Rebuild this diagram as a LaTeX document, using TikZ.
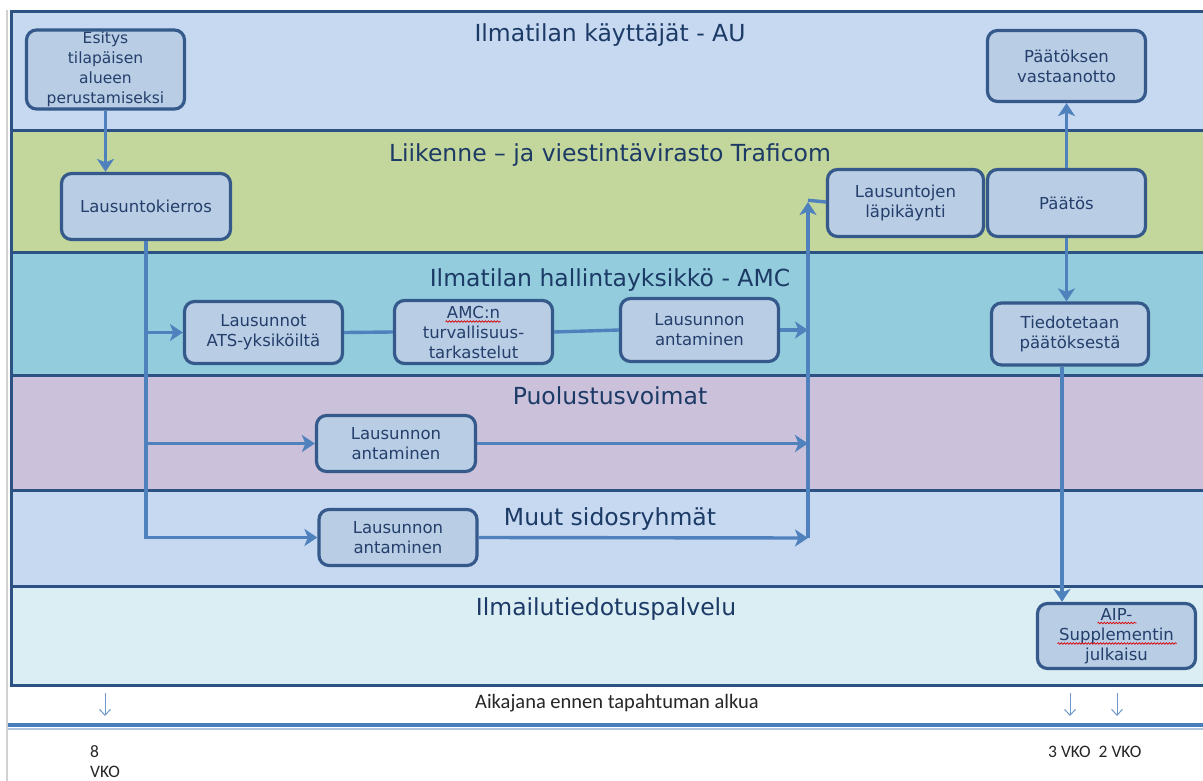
\documentclass[tikz,border=0pt]{standalone}
\usepackage{fontspec}
\setmainfont{DejaVu Sans}
\newfontfamily\calfont{Carlito}
\usetikzlibrary{arrows.meta,decorations.pathmorphing}
\definecolor{laneAU}{HTML}{C6D9F1}
\definecolor{laneTR}{HTML}{C3D69B}
\definecolor{laneAMC}{HTML}{93CDDD}
\definecolor{lanePV}{HTML}{CCC1DA}
\definecolor{laneMU}{HTML}{C6D9F1}
\definecolor{laneIL}{HTML}{DBEEF4}
\definecolor{laneline}{HTML}{2B5282}
\definecolor{boxfill}{HTML}{B9CDE5}
\definecolor{boxline}{HTML}{34598A}
\definecolor{boxtext}{HTML}{243F6B}
\definecolor{titletext}{HTML}{1C3A66}
\definecolor{arrowblue}{HTML}{4F81BD}
\definecolor{thinblue}{HTML}{6F97CC}
\definecolor{tlblue}{HTML}{4A7EBB}
\definecolor{tllight}{HTML}{B0C4DE}
\begin{document}
\begin{tikzpicture}[x=1pt,y=-1pt,
  lane/.style={draw=laneline, line width=3pt, fill=#1},
  lanetitle/.style={anchor=base, text=titletext, font=\fontsize{23.5}{28}\selectfont, inner sep=0pt},
  box/.style={draw=boxline, fill=boxfill, line width=3.2pt, rounded corners=10pt, align=center,
    text=boxtext, font=\fontsize{16.5}{20}\selectfont, inner sep=2pt},
  conn/.style={draw=arrowblue, line width=3.4pt},
  arr/.style={conn, -{Stealth[length=13pt,width=17pt,inset=3.5pt]}},
  tarr/.style={draw=thinblue, line width=1pt, -{Straight Barb[length=6pt,width=11pt]}},
  tltext/.style={font=\calfont\fontsize{20.5}{24}\selectfont, text=black!85, inner sep=0pt},
  wklabel/.style={font=\calfont\fontsize{17.5}{20}\selectfont, text=black!85, inner sep=0pt, anchor=west},
  squiggle/.style={draw=red!85!black, line width=0.7pt, decorate, decoration={snake, segment length=3pt, amplitude=0.8pt}}
]
\useasboundingbox (0,0) rectangle (1203,781);
\fill[white] (0,0) rectangle (1203,781);
\draw[black!18, line width=1.2pt] (7,10) -- (7,781);

% lanes
\draw[lane=laneAU]  (11,12)  rectangle (1215,131);
\draw[lane=laneTR]  (11,131) rectangle (1215,252);
\draw[lane=laneAMC] (11,252) rectangle (1215,375);
\draw[lane=lanePV]  (11,375) rectangle (1215,490);
\draw[lane=laneMU]  (11,490) rectangle (1215,586);
\draw[lane=laneIL]  (11,586) rectangle (1215,685);

% lane titles
\node[lanetitle] (tAU)  at (610,42)  {Ilmatilan käyttäjät - AU};
\node[lanetitle] (tTR)  at (610,162) {Liikenne – ja viestintävirasto Traficom};
\node[lanetitle] (tAMC) at (610,286) {Ilmatilan hallintayksikkö - AMC};
\node[lanetitle] (tPV)  at (610,404) {Puolustusvoimat};
\node[lanetitle] (tMU)  at (610,525) {Muut sidosryhmät};
\node[lanetitle] (tIL)  at (606,615) {Ilmailutiedotuspalvelu};

% timeline
\draw[tlblue, line width=3.5pt] (8,725) -- (1210,725);
\draw[tllight, line width=1.5pt] (8,729) -- (1210,729);
\node[tltext] (tl) at (617,703) {Aikajana ennen tapahtuman alkua};
\coordinate (a1s) at (105,693); \coordinate (a1e) at (105,716);
\coordinate (a2s) at (1070,693); \coordinate (a2e) at (1070,716);
\coordinate (a3s) at (1117,693); \coordinate (a3e) at (1117,716);
\draw[tarr] (a1s) -- (a1e);
\draw[tarr] (a2s) -- (a2e);
\draw[tarr] (a3s) -- (a3e);
\node[wklabel] (w8) at (90,752) {8};
\node[wklabel] (wv) at (90,772) {VKO};
\node[wklabel] (w32) at (1048,752) {3 VKO\ \ 2 VKO};

% boxes
\node[box, font=\fontsize{15.5}{20}\selectfont, minimum width=158pt, minimum height=78pt] (esitys) at (105.5,69.5) {Esitys\\tilapäisen\\alueen\\perustamiseksi};
\node[box, minimum width=169pt, minimum height=66pt] (kierros) at (146,206.5) {Lausuntokierros};
\node[box, minimum width=156pt, minimum height=67pt] (lapi) at (905.5,203) {Lausuntojen\\läpikäynti};
\node[box, minimum width=158pt, minimum height=67pt] (paatos) at (1066.5,203) {Päätös};
\node[box, minimum width=158pt, minimum height=71pt] (vast) at (1066.5,66) {Päätöksen\\vastaanotto};
\node[box, minimum width=158pt, minimum height=62pt] (ats) at (263.5,332.5) {Lausunnot\\ATS-yksiköiltä};
\node[box, minimum width=158pt, minimum height=63pt] (amcn) at (473.5,332) {AMC:n\\turvallisuus-\\tarkastelut};
\node[box, minimum width=158pt, minimum height=63pt] (amcla) at (699.5,330) {Lausunnon\\antaminen};
\node[box, minimum width=157pt, minimum height=62pt] (tied) at (1070,334) {Tiedotetaan\\päätöksestä};
\node[box, minimum width=159pt, minimum height=56pt] (pvla) at (396,443.5) {Lausunnon\\antaminen};
\node[box, minimum width=158pt, minimum height=56pt] (mula) at (398,537.5) {Lausunnon\\antaminen};
\node[box, minimum width=158pt, minimum height=65pt] (aip) at (1116.5,636) {AIP-\\Supplementin\\julkaisu};

% spell-check marks
\draw[squiggle] ([xshift=-28pt,yshift=10.5pt]amcn.center) -- ([xshift=27pt,yshift=10.5pt]amcn.center);
\draw[squiggle] ([xshift=-19pt,yshift=13pt]aip.center) -- ([xshift=20pt,yshift=13pt]aip.center);
\draw[squiggle] ([xshift=-59pt,yshift=-7.5pt]aip.center) -- ([xshift=60pt,yshift=-7.5pt]aip.center);

% connectors
\draw[arr] (esitys.south) -- (esitys.south |- kierros.north);
\draw[arr] (kierros.south) |- (mula.west);
\draw[arr] (kierros.south |- ats.west) -- (ats.west);
\draw[arr] (kierros.south |- pvla.west) -- (pvla.west);
\draw[conn] (ats.east) -- (amcn.west);
\draw[conn] (amcn.east) -- (amcla.west);
\coordinate (cb) at (808,538);
\coordinate (ct) at (808,202);
\draw[arr] (amcla.east) -- (amcla.east -| cb);
\draw[arr] (pvla.east) -- (pvla.east -| cb);
\draw[arr] (mula.east) -- (cb);
\draw[arr] (cb) -- (ct);
\draw[conn] ([yshift=1.7pt]ct) -- (lapi.west |- ct);
\draw[arr] (paatos.north) -- (paatos.north |- vast.south);
\draw[arr] (paatos.south) -- (paatos.south |- tied.north);
\draw[arr] ([xshift=-8pt]tied.south) -- ([xshift=-8pt]tied.south |- aip.north);
\end{tikzpicture}
\end{document}
